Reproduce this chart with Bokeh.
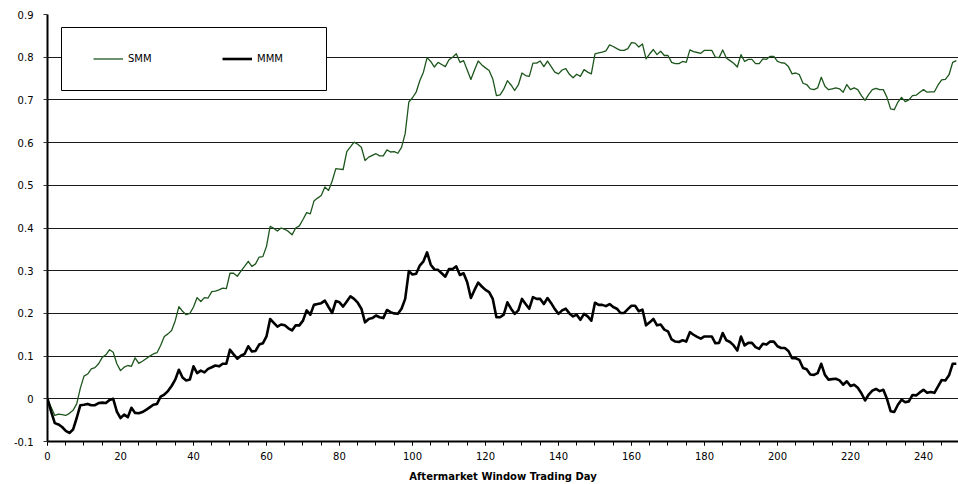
from bokeh.plotting import figure
from bokeh.models import (Range1d, FixedTicker, SingleIntervalTicker, Legend, LegendItem,
                          ColumnDataSource, BoxAnnotation)
from bokeh.embed import file_html
from bokeh.resources import INLINE

# ---------------- data ----------------
days = list(range(0, 250))

smm = [
    0.000, -0.020, -0.039, -0.036, -0.037, -0.039, -0.034, -0.027, -0.012, 0.025,
    0.053, 0.058, 0.070, 0.073, 0.082, 0.097, 0.103, 0.115, 0.109, 0.082,
    0.066, 0.074, 0.078, 0.076, 0.096, 0.083, 0.088, 0.094, 0.100, 0.105,
    0.108, 0.125, 0.146, 0.152, 0.160, 0.183, 0.216, 0.205, 0.197, 0.200,
    0.215, 0.237, 0.228, 0.237, 0.236, 0.251, 0.252, 0.255, 0.259, 0.258,
    0.294, 0.294, 0.287, 0.299, 0.310, 0.322, 0.310, 0.316, 0.332, 0.333,
    0.357, 0.404, 0.399, 0.393, 0.400, 0.397, 0.392, 0.384, 0.400, 0.405,
    0.420, 0.436, 0.433, 0.463, 0.470, 0.476, 0.496, 0.488, 0.510, 0.539,
    0.538, 0.537, 0.579, 0.590, 0.601, 0.596, 0.589, 0.558, 0.566, 0.570,
    0.574, 0.569, 0.569, 0.583, 0.578, 0.579, 0.575, 0.589, 0.621, 0.695,
    0.705, 0.718, 0.745, 0.765, 0.799, 0.790, 0.777, 0.788, 0.783, 0.778,
    0.794, 0.800, 0.808, 0.788, 0.792, 0.770, 0.748, 0.770, 0.791, 0.782,
    0.775, 0.769, 0.749, 0.710, 0.712, 0.725, 0.745, 0.735, 0.722, 0.735,
    0.763, 0.757, 0.755, 0.786, 0.786, 0.791, 0.778, 0.791, 0.778, 0.765,
    0.761, 0.770, 0.773, 0.760, 0.752, 0.760, 0.755, 0.771, 0.765, 0.761,
    0.808, 0.810, 0.812, 0.815, 0.829, 0.825, 0.820, 0.816, 0.816, 0.820,
    0.834, 0.833, 0.824, 0.831, 0.796, 0.808, 0.818, 0.806, 0.814, 0.804,
    0.804, 0.788, 0.785, 0.785, 0.790, 0.788, 0.817, 0.813, 0.811, 0.809,
    0.816, 0.816, 0.816, 0.800, 0.799, 0.817, 0.798, 0.792, 0.786, 0.777,
    0.806, 0.790, 0.795, 0.795, 0.785, 0.785, 0.796, 0.795, 0.802, 0.802,
    0.790, 0.787, 0.786, 0.778, 0.761, 0.763, 0.759, 0.739, 0.736, 0.726,
    0.724, 0.728, 0.753, 0.732, 0.724, 0.726, 0.728, 0.726, 0.718, 0.736,
    0.724, 0.728, 0.724, 0.710, 0.699, 0.713, 0.724, 0.727, 0.724, 0.724,
    0.706, 0.679, 0.677, 0.695, 0.706, 0.696, 0.700, 0.710, 0.711, 0.718,
    0.724, 0.718, 0.719, 0.719, 0.735, 0.747, 0.748, 0.759, 0.788, 0.792,
]

mmm = [
    0.000, -0.030, -0.057, -0.060, -0.066, -0.075, -0.080, -0.072, -0.045, -0.015,
    -0.014, -0.012, -0.015, -0.015, -0.010, -0.009, -0.010, -0.003, 0.000, -0.030,
    -0.045, -0.037, -0.043, -0.021, -0.033, -0.034, -0.031, -0.026, -0.020, -0.014,
    -0.012, 0.005, 0.010, 0.018, 0.030, 0.045, 0.068, 0.050, 0.043, 0.045,
    0.076, 0.060, 0.066, 0.062, 0.070, 0.074, 0.078, 0.076, 0.082, 0.082,
    0.115, 0.104, 0.094, 0.101, 0.105, 0.123, 0.111, 0.112, 0.127, 0.130,
    0.146, 0.187, 0.178, 0.169, 0.174, 0.172, 0.165, 0.160, 0.172, 0.172,
    0.183, 0.207, 0.197, 0.220, 0.222, 0.224, 0.230, 0.215, 0.201, 0.229,
    0.226, 0.216, 0.228, 0.240, 0.234, 0.225, 0.211, 0.179, 0.187, 0.189,
    0.195, 0.191, 0.189, 0.208, 0.203, 0.200, 0.199, 0.211, 0.234, 0.299,
    0.291, 0.293, 0.312, 0.322, 0.343, 0.314, 0.303, 0.302, 0.294, 0.286,
    0.304, 0.304, 0.310, 0.290, 0.294, 0.273, 0.236, 0.255, 0.272, 0.263,
    0.255, 0.250, 0.234, 0.191, 0.191, 0.197, 0.226, 0.211, 0.199, 0.207,
    0.234, 0.222, 0.211, 0.238, 0.234, 0.234, 0.222, 0.236, 0.224, 0.210,
    0.199, 0.207, 0.211, 0.200, 0.193, 0.197, 0.185, 0.199, 0.193, 0.183,
    0.225, 0.220, 0.220, 0.217, 0.222, 0.215, 0.211, 0.201, 0.201, 0.210,
    0.218, 0.218, 0.205, 0.209, 0.172, 0.179, 0.187, 0.172, 0.174, 0.162,
    0.158, 0.139, 0.134, 0.133, 0.137, 0.134, 0.156, 0.150, 0.145, 0.141,
    0.146, 0.146, 0.146, 0.130, 0.131, 0.154, 0.137, 0.133, 0.125, 0.113,
    0.146, 0.125, 0.131, 0.131, 0.121, 0.117, 0.129, 0.127, 0.134, 0.134,
    0.123, 0.119, 0.119, 0.112, 0.095, 0.095, 0.091, 0.072, 0.069, 0.057,
    0.056, 0.060, 0.082, 0.056, 0.045, 0.046, 0.047, 0.043, 0.033, 0.041,
    0.030, 0.033, 0.026, 0.013, -0.004, 0.010, 0.019, 0.023, 0.018, 0.021,
    0.000, -0.029, -0.031, -0.014, -0.002, -0.008, -0.006, 0.009, 0.008, 0.015,
    0.021, 0.014, 0.016, 0.014, 0.029, 0.044, 0.043, 0.055, 0.082, 0.082,
]

y_ticks = [-0.1, 0.0, 0.1, 0.2, 0.3, 0.4, 0.5, 0.6, 0.7, 0.8, 0.9]
y_tick_labels = ["-0.1", "0", "0.1", "0.2", "0.3", "0.4", "0.5", "0.6", "0.7", "0.8", "0.9"]
series_names = ["SMM", "MMM"]
x_axis_title = "Aftermarket Window Trading Day"

# ---------------- figure ----------------
FONT = "DejaVu Sans"

p = figure(width=958, height=484, output_backend="svg", toolbar_location=None,
           x_range=Range1d(0, 249.6), y_range=Range1d(-0.1, 0.9),
           min_border_left=47, min_border_right=0, min_border_top=14, min_border_bottom=43)
p.outline_line_color = None
p.background_fill_color = "white"
p.border_fill_color = "white"

src = ColumnDataSource(dict(day=days, smm=smm, mmm=mmm))
r_smm = p.line("day", "smm", source=src, line_color="#1d561d", line_width=1.3, line_join="round")
r_mmm = p.line("day", "mmm", source=src, line_color="black", line_width=2.6, line_join="round")

# grid
p.xgrid.visible = False
p.ygrid.ticker = FixedTicker(ticks=y_ticks)
p.ygrid.grid_line_color = "#1a1a1a"
p.ygrid.grid_line_width = 1

# y axis
p.yaxis.ticker = FixedTicker(ticks=y_ticks)
p.yaxis.major_label_overrides = {t: l for t, l in zip(y_ticks, y_tick_labels)}
p.yaxis.axis_line_width = 2
p.yaxis.axis_line_color = "black"
p.yaxis.major_tick_out = 4
p.yaxis.major_tick_in = 0
p.yaxis.minor_tick_line_color = None
p.yaxis.major_tick_line_color = "#333333"
p.yaxis.major_label_standoff = 10
p.yaxis.major_label_text_font = FONT
p.yaxis.major_label_text_font_size = "10px"
p.yaxis.major_label_text_color = "black"

# x axis
p.xaxis.ticker = SingleIntervalTicker(interval=20, num_minor_ticks=4)
p.xaxis.axis_line_width = 2
p.xaxis.axis_line_color = "black"
p.xaxis.major_tick_out = 4
p.xaxis.major_tick_in = 0
p.xaxis.minor_tick_out = 4
p.xaxis.minor_tick_in = 0
p.xaxis.major_tick_line_color = "black"
p.xaxis.minor_tick_line_color = "black"
p.xaxis.major_label_standoff = 6
p.xaxis.major_label_text_font = FONT
p.xaxis.major_label_text_font_size = "10px"
p.xaxis.major_label_text_color = "black"
p.xaxis.axis_label = x_axis_title
p.xaxis.axis_label_text_font = FONT
p.xaxis.axis_label_text_font_size = "10px"
p.xaxis.axis_label_text_font_style = "bold"
p.xaxis.axis_label_text_color = "black"
p.xaxis.axis_label_standoff = 8

# legend frame + legend
p.add_layout(BoxAnnotation(left=14, right=279, bottom=351, top=414,
                           left_units="screen", right_units="screen",
                           bottom_units="screen", top_units="screen",
                           fill_color="white", fill_alpha=1.0,
                           line_color="black", line_width=1, line_alpha=1.0))
legend = Legend(
    items=[LegendItem(label=series_names[0], renderers=[r_smm]),
           LegendItem(label=series_names[1], renderers=[r_mmm])],
    orientation="horizontal", location=(46, 372),
    padding=10, spacing=34, margin=0,
    glyph_width=30, glyph_height=21, label_height=21, label_width=60, label_standoff=5,
    border_line_color=None, background_fill_alpha=0.0,
    label_text_font=FONT, label_text_font_size="10px", label_text_color="black",
)
p.add_layout(legend)

open("out.html", "w").write(file_html(p, INLINE))
